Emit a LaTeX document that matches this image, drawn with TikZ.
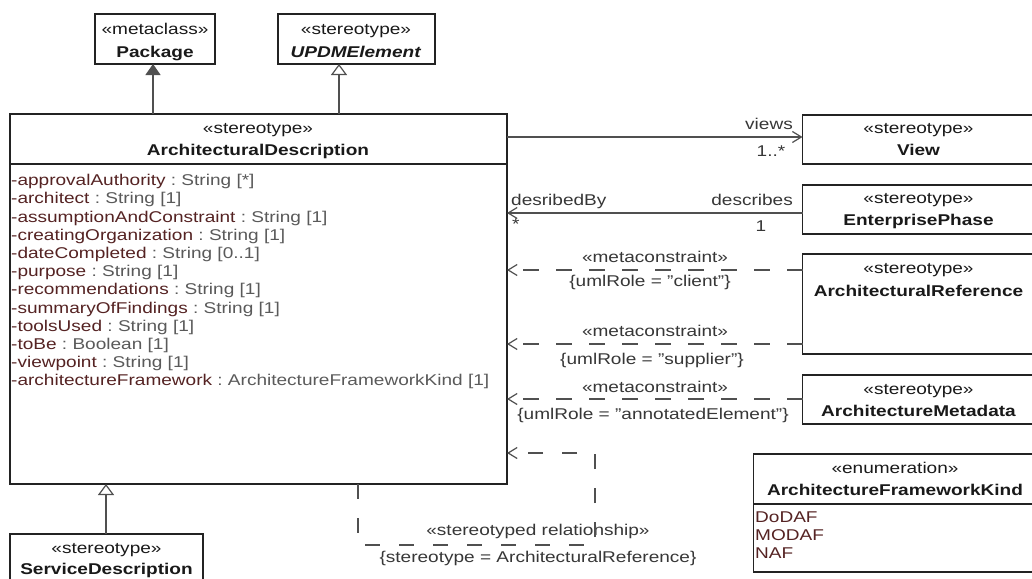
\documentclass[tikz,border=0pt]{standalone}
\usepackage{fontspec}
\setmainfont{Liberation Sans}[FakeStretch=1.22]
\usetikzlibrary{arrows.meta}
\definecolor{attrname}{RGB}{85,35,35}
\definecolor{attrtype}{RGB}{90,90,90}
\definecolor{boxcol}{RGB}{35,35,35}
\definecolor{linecol}{RGB}{80,80,80}
\definecolor{labcol}{RGB}{55,55,55}
\definecolor{boxtext}{RGB}{25,25,25}
\newcommand\myattr[2]{\textcolor{attrname}{#1}\textcolor{attrtype}{\ :\ #2}}
\begin{document}
\begin{tikzpicture}[x=1pt,y=-1pt,
  every node/.style={font=\fontsize{15.6}{18.2}\selectfont},
  umlbox/.style={draw=boxcol, line width=1.4pt, fill=white, inner sep=0pt, outer sep=0pt},
  txt/.style={inner sep=0pt, text height=11.2pt, text depth=0pt},
  stereo/.style={txt, text=boxtext},
  bname/.style={txt, text=boxtext, font=\fontsize{15.6}{18.2}\selectfont\bfseries},
  attr/.style={txt, anchor=west},
  lab/.style={txt, text=labcol},
  sepline/.style={draw=boxcol, line width=1.4pt},
  assoc/.style={draw=linecol, line width=1.2pt, -{Straight Barb[length=9pt,width=11pt]}},
  dep/.style={assoc, dash pattern=on 16pt off 17pt},
  gen/.style={draw=linecol, line width=1.2pt, -{Triangle[open, length=11pt, width=16pt, fill=white]}},
  genf/.style={draw=linecol, line width=1.2pt, -{Triangle[length=11pt, width=15pt]}}
]
\useasboundingbox[fill=white] (0,0) rectangle (1032,578);

% boxes
\node[umlbox, minimum width=120pt, minimum height=50pt] (pk) at (155,39) {};
\node[umlbox, minimum width=157pt, minimum height=50pt] (updm) at (356.5,39) {};
\node[umlbox, minimum width=497pt, minimum height=370pt] (ad) at (258.5,299) {};
\node[umlbox, minimum width=232.5pt, minimum height=49pt] (view) at (918.75,139.5) {};
\node[umlbox, minimum width=232.5pt, minimum height=49pt] (ep) at (918.75,209.5) {};
\node[umlbox, minimum width=232.5pt, minimum height=100pt] (arref) at (918.75,304) {};
\node[umlbox, minimum width=232.5pt, minimum height=49pt] (armeta) at (918.75,399.5) {};
\node[umlbox, minimum width=283.5pt, minimum height=118pt] (enum) at (895.25,513) {};
\node[umlbox, minimum width=193pt, minimum height=56pt] (sd) at (106.5,562) {};

\draw[sepline] (ad.west |- 0,164) -- (ad.east |- 0,164);
\draw[sepline] (enum.west |- 0,504) -- (enum.east |- 0,504);

% box texts
\node[stereo] (pk1) at (155,29) {«metaclass»};
\node[bname] (pk2) at (155,52) {Package};
\node[stereo] (up1) at (356,29) {«stereotype»};
\node[bname] (up2) at (356,52) {\textit{UPDMElement}};
\node[stereo] (ad1) at (258,128) {«stereotype»};
\node[bname] (ad2) at (258,150) {ArchitecturalDescription};
\node[stereo] (vw1) at (918.5,128) {«stereotype»};
\node[bname] (vw2) at (918.5,150) {View};
\node[stereo] (ep1) at (918.5,198) {«stereotype»};
\node[bname] (ep2) at (918.5,220) {EnterprisePhase};
\node[stereo] (ar1) at (918.5,268) {«stereotype»};
\node[bname] (ar2) at (918.5,291) {ArchitecturalReference};
\node[stereo] (am1) at (918.5,389) {«stereotype»};
\node[bname] (am2) at (918.5,411) {ArchitectureMetadata};
\node[stereo] (en1) at (895,468) {«enumeration»};
\node[bname] (en2) at (895,490) {ArchitectureFrameworkKind};
\node[attr, text=attrname] (en3) at (755,517) {DoDAF};
\node[attr, text=attrname] (en4) at (755,535) {MODAF};
\node[attr, text=attrname] (en5) at (755,553) {NAF};
\node[stereo] (sd1) at (106.5,548) {«stereotype»};
\node[bname] (sd2) at (106.5,569) {ServiceDescription};

% attributes
\node[attr] (a1) at (11,180) {\myattr{-approvalAuthority}{String [*]}};
\node[attr] (a2) at (11,198.2) {\myattr{-architect}{String [1]}};
\node[attr] (a3) at (11,216.4) {\myattr{-assumptionAndConstraint}{String [1]}};
\node[attr] (a4) at (11,234.6) {\myattr{-creatingOrganization}{String [1]}};
\node[attr] (a5) at (11,252.8) {\myattr{-dateCompleted}{String [0..1]}};
\node[attr] (a6) at (11,271) {\myattr{-purpose}{String [1]}};
\node[attr] (a7) at (11,289.2) {\myattr{-recommendations}{String [1]}};
\node[attr] (a8) at (11,307.4) {\myattr{-summaryOfFindings}{String [1]}};
\node[attr] (a9) at (11,325.6) {\myattr{-toolsUsed}{String [1]}};
\node[attr] (a10) at (11,343.8) {\myattr{-toBe}{Boolean [1]}};
\node[attr] (a11) at (11,362) {\myattr{-viewpoint}{String [1]}};
\node[attr] (a12) at (11,380.2) {\myattr{-architectureFramework}{ArchitectureFrameworkKind [1]}};

% generalizations
\draw[genf] (ad.north -| 153,0) -- (pk.south -| 153,0);
\draw[gen] (ad.north -| 339,0) -- (updm.south -| 339,0);
\draw[gen] (sd.north -| 106,0) -- (ad.south -| 106,0);

% associations
\draw[assoc] (ad.east |- 0,137) -- (view.west |- 0,137);
\node[lab, anchor=east] (lviews) at (793,124) {views};
\node[lab] (lmult1) at (771,151) {1..*};
\draw[assoc] (ep.west |- 0,213) -- (ad.east |- 0,213);
\node[lab, anchor=west] (ldby) at (511,200) {desribedBy};
\node[lab, anchor=east] (ldes) at (793,200) {describes};
\node[lab, anchor=west] (lstar) at (512,224) {*};
\node[lab] (lone) at (761,226) {1};

% metaconstraints
\draw[dep] (arref.west |- 0,270) -- (ad.east |- 0,270);
\node[lab] (m1a) at (655,257) {«metaconstraint»};
\node[lab] (m1b) at (650,281) {\{umlRole = "client"\}};
\draw[dep] (arref.west |- 0,344) -- (ad.east |- 0,344);
\node[lab] (m2a) at (655,331) {«metaconstraint»};
\node[lab] (m2b) at (652,359) {\{umlRole = "supplier"\}};
\draw[dep] (armeta.west |- 0,399) -- (ad.east |- 0,399);
\node[lab] (m3a) at (655,387) {«metaconstraint»};
\node[lab] (m3b) at (653,414) {\{umlRole = "annotatedElement"\}};

% stereotyped relationship (self loop)
\node[lab] (s1a) at (538,530) {«stereotyped relationship»};
\node[lab] (s1b) at (538,557) {\{stereotype = ArchitecturalReference\}};
\coordinate (c1) at (358,545);
\coordinate (c2) at (595,545);
\coordinate (c3) at (595,453);
\draw[dep, dash pattern=on 15pt off 19pt] (ad.south -| c1) -- (c1) -- (c2) -- (c3) -- (ad.east |- c3);
\end{tikzpicture}
\end{document}
